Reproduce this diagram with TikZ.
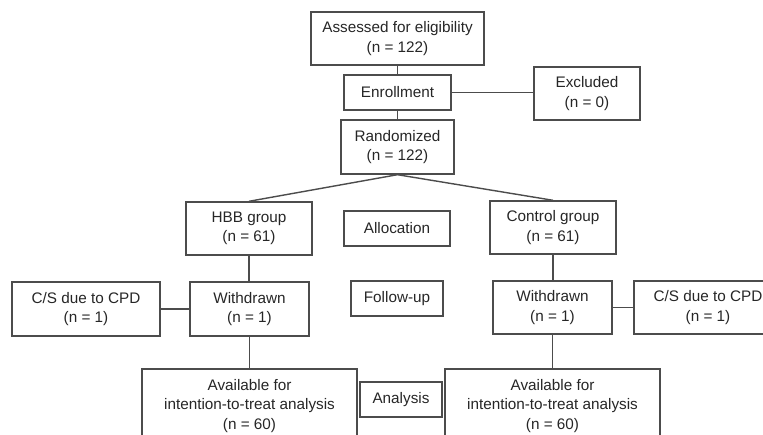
\documentclass[tikz,border=0pt]{standalone}
\usepackage{fontspec}
\setmainfont{Liberation Sans}
\begin{document}
\begin{tikzpicture}[x=0.02cm,y=-0.02cm,
  box/.style={draw=black!70, line width=0.8pt, align=center, inner sep=0pt,
    font=\fontsize{8.7}{11}\selectfont, text=black!85},
  link/.style={draw=black!70, line width=0.8pt}]
\useasboundingbox (0,0) rectangle (763,435);
\node[box, minimum width=173*0.02cm, minimum height=53*0.02cm] (assess) at (397.5,38.5) {Assessed for eligibility\\(n = 122)};
\node[box, minimum width=107*0.02cm, minimum height=35*0.02cm] (enroll) at (397.5,92.5) {Enrollment};
\node[box, minimum width=106*0.02cm, minimum height=53*0.02cm] (excl) at (587,93.5) {Excluded\\(n = 0)};
\node[box, minimum width=113*0.02cm, minimum height=54*0.02cm] (rand) at (397.5,147) {Randomized\\(n = 122)};
\node[box, minimum width=126*0.02cm, minimum height=53*0.02cm] (hbb) at (249,228.5) {HBB group\\(n = 61)};
\node[box, minimum width=106*0.02cm, minimum height=35*0.02cm] (alloc) at (397,228.5) {Allocation};
\node[box, minimum width=126*0.02cm, minimum height=53*0.02cm] (ctrl) at (553,227.5) {Control group\\(n = 61)};
\node[box, minimum width=119*0.02cm, minimum height=54*0.02cm] (wdl) at (249.5,309) {Withdrawn\\(n = 1)};
\node[box, minimum width=148*0.02cm, minimum height=54*0.02cm] (csl) at (86,309) {C/S due to CPD\\(n = 1)};
\node[box, minimum width=92*0.02cm, minimum height=35*0.02cm] (fu) at (397,298.5) {Follow-up};
\node[box, minimum width=119*0.02cm, minimum height=53*0.02cm] (wdr) at (552.5,307.5) {Withdrawn\\(n = 1)};
\node[box, minimum width=148*0.02cm, minimum height=53*0.02cm] (csr) at (708,307.5) {C/S due to CPD\\(n = 1)};
\node[box, minimum width=215*0.02cm, minimum height=74*0.02cm] (avl) at (249.5,406) {Available for\\intention-to-treat analysis\\(n = 60)};
\node[box, minimum width=82*0.02cm, minimum height=35*0.02cm] (ana) at (401,399.5) {Analysis};
\node[box, minimum width=215*0.02cm, minimum height=74*0.02cm] (avr) at (552.5,406) {Available for\\intention-to-treat analysis\\(n = 60)};
\draw[link] (assess.south) -- (enroll.north);
\draw[link] (enroll.east) -- (excl.west |- enroll.east);
\draw[link] (enroll.south) -- (rand.north);
\draw[link] (rand.south) -- (hbb.north);
\draw[link] (rand.south) -- (ctrl.north);
\draw[link] (hbb.south) -- (wdl.north -| hbb.south);
\draw[link] (wdl.west) -- (csl.east);
\draw[link] (wdl.south) -- (avl.north);
\draw[link] (ctrl.south) -- (wdr.north -| ctrl.south);
\draw[link] (wdr.east) -- (csr.west);
\draw[link] (wdr.south) -- (avr.north);
\end{tikzpicture}
\end{document}
